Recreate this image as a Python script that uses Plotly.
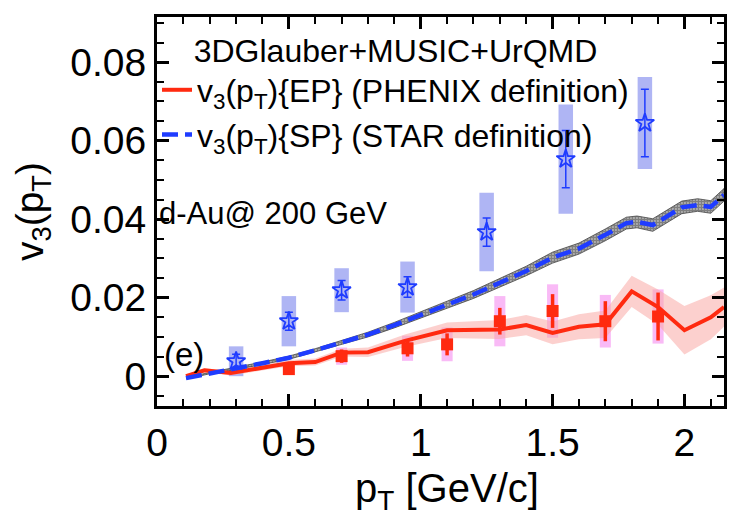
import plotly.graph_objects as go

# ---- model curves (3DGlauber+MUSIC+UrQMD) ----
ep_pt = [0.11, 0.18, 0.28, 0.38, 0.50, 0.60, 0.70, 0.80, 0.94, 1.10, 1.30, 1.40,
         1.50, 1.60, 1.70, 1.80, 1.90, 2.00, 2.10, 2.15]
ep_v3 = [0.0000, 0.0015, 0.0008, 0.0020, 0.0033, 0.0036, 0.0060, 0.0061, 0.0090,
         0.0117, 0.0119, 0.0130, 0.0110, 0.0126, 0.0132, 0.0216, 0.0176, 0.0117,
         0.0150, 0.0176]
ep_err = [0.0004, 0.0005, 0.0006, 0.0007, 0.0008, 0.0009, 0.0010, 0.0012, 0.0016,
          0.0020, 0.0024, 0.0026, 0.0029, 0.0032, 0.0035, 0.0040, 0.0045, 0.0062,
          0.0056, 0.0050]

sp_pt = [0.11, 0.20, 0.30, 0.40, 0.50, 0.60, 0.70, 0.80, 0.90, 1.00, 1.10, 1.20,
         1.30, 1.40, 1.50, 1.60, 1.70, 1.78, 1.82, 1.88, 1.99, 2.05, 2.10, 2.15]
sp_v3 = [-0.0005, 0.0008, 0.0020, 0.0033, 0.0047, 0.0066, 0.0086, 0.0106, 0.0130,
         0.0155, 0.0182, 0.0208, 0.0238, 0.0268, 0.0302, 0.0325, 0.0360, 0.0390,
         0.0393, 0.0385, 0.0430, 0.0436, 0.0431, 0.0462]
sp_err = [0.0002, 0.0002, 0.0003, 0.0003, 0.0004, 0.0004, 0.0005, 0.0006, 0.0007,
          0.0008, 0.0009, 0.0010, 0.0011, 0.0012, 0.0014, 0.0014, 0.0015, 0.0015,
          0.0015, 0.0016, 0.0016, 0.0016, 0.0016, 0.0016]

# ---- STAR data (SP) ----
star_pt = [0.30, 0.50, 0.70, 0.95, 1.25, 1.55, 1.85]
star_v3 = [0.0038, 0.0140, 0.0219, 0.0227, 0.0367, 0.0553, 0.0645]
star_stat = [0.0018, 0.0023, 0.0025, 0.0026, 0.0036, 0.0073, 0.0086]
star_sys = [0.0038, 0.0064, 0.0056, 0.0065, 0.0100, 0.0139, 0.0117]

# ---- PHENIX data (EP) ----
phx_pt = [0.50, 0.70, 0.95, 1.10, 1.30, 1.50, 1.70, 1.90]
phx_v3 = [0.0018, 0.0051, 0.0071, 0.0081, 0.0140, 0.0166, 0.0140, 0.0152]
phx_stat = [0.0010, 0.0017, 0.0021, 0.0028, 0.0034, 0.0043, 0.0051, 0.0061]
phx_sys = [0.0015, 0.0022, 0.0032, 0.0043, 0.0064, 0.0068, 0.0067, 0.0069]

x_ticks = [0, 0.5, 1, 1.5, 2]
x_ticktext = ["0", "0.5", "1", "1.5", "2"]
y_ticks = [0, 0.02, 0.04, 0.06, 0.08]
y_ticktext = ["0", "0.02", "0.04", "0.06", "0.08"]

RED = "#ff2a10"
BLUE = "#1f3cff"
FONT = "Liberation Sans"

fig = go.Figure()


def band(xs, ys, es):
    upper = [y + e for y, e in zip(ys, es)]
    lower = [y - e for y, e in zip(ys, es)]
    return xs + xs[::-1], upper + lower[::-1]


# EP uncertainty band
bx, by = band(ep_pt, ep_v3, ep_err)
fig.add_trace(go.Scatter(x=bx, y=by, fill="toself", mode="lines",
                         line=dict(width=0), fillcolor="rgba(250,170,165,0.55)",
                         hoverinfo="skip", showlegend=False))

# SP uncertainty band (stippled)
bx, by = band(sp_pt, sp_v3, sp_err)
fig.add_trace(go.Scatter(x=bx, y=by, fill="toself", mode="lines",
                         line=dict(width=0.8, color="#444444"),
                         fillcolor="white",
                         fillpattern=dict(shape=".", fgcolor="black",
                                          bgcolor="white", size=3, solidity=0.8),
                         hoverinfo="skip", showlegend=False))

# systematic boxes
fig.add_trace(go.Bar(x=star_pt, y=[2 * s for s in star_sys],
                     base=[v - s for v, s in zip(star_v3, star_sys)],
                     width=0.055, marker=dict(color="rgba(110,120,235,0.55)",
                                              line=dict(width=0)),
                     hoverinfo="skip", showlegend=False))
fig.add_trace(go.Bar(x=phx_pt, y=[2 * s for s in phx_sys],
                     base=[v - s for v, s in zip(phx_v3, phx_sys)],
                     width=0.042, marker=dict(color="rgba(245,140,240,0.6)",
                                              line=dict(width=0)),
                     hoverinfo="skip", showlegend=False))

# model curves
fig.add_trace(go.Scatter(x=ep_pt, y=ep_v3, mode="lines",
                         line=dict(color=RED, width=4),
                         name="v<sub>3</sub>(p<sub>T</sub>){EP} (PHENIX definition)"))
fig.add_trace(go.Scatter(x=sp_pt, y=sp_v3, mode="lines",
                         line=dict(color=BLUE, width=4.5, dash="16px,7px"),
                         name="v<sub>3</sub>(p<sub>T</sub>){SP} (STAR definition)"))

# data points
fig.add_trace(go.Scatter(x=star_pt, y=star_v3, mode="markers",
                         marker=dict(symbol="star-open", size=14,
                                     color=BLUE, line=dict(width=1.8, color=BLUE)),
                         error_y=dict(type="data", array=star_stat, color=BLUE,
                                      thickness=1.5, width=4),
                         showlegend=False))
fig.add_trace(go.Scatter(x=phx_pt, y=phx_v3, mode="markers",
                         marker=dict(symbol="square", size=12, color=RED,
                                     line=dict(width=0)),
                         error_y=dict(type="data", array=phx_stat, color=RED,
                                      thickness=3.5, width=0),
                         showlegend=False))

fig.add_annotation(x=0.0, y=0.0415, xref="x", yref="y", xanchor="left",
                   text="d-Au@ 200 GeV", showarrow=False,
                   font=dict(family=FONT, size=31, color="black"))
fig.add_annotation(x=0.02, y=0.0054, xref="x", yref="y", xanchor="left",
                   text="(e)", showarrow=False,
                   font=dict(family=FONT, size=33, color="black"))
# x-axis title
fig.add_annotation(x=0.512, y=-0.218, xref="paper", yref="paper",
                   xanchor="center", yanchor="middle", showarrow=False,
                   text="p<sub>T</sub> [GeV/c]",
                   font=dict(family=FONT, size=40, color="black"))

axis_common = dict(showline=True, linewidth=3, linecolor="black", mirror="allticks",
                   ticks="inside", ticklen=12, tickwidth=2.5, tickcolor="black",
                   showgrid=False, zeroline=False,
                   tickfont=dict(family=FONT, size=39, color="black"))

fig.update_layout(
    width=729, height=522,
    margin=dict(l=157, r=2, t=17, b=116),
    paper_bgcolor="white", plot_bgcolor="white",
    barmode="overlay",
    font=dict(family=FONT, color="black"),
    xaxis=dict(range=[0, 2.15], tickvals=x_ticks, ticktext=x_ticktext,
               minor=dict(dtick=0.1, ticks="inside", ticklen=7, tickwidth=2,
                          tickcolor="black"),
               ticklabelstandoff=0,
               **axis_common),
    yaxis=dict(range=[-0.0076, 0.0915], tickvals=y_ticks, ticktext=y_ticktext,
               minor=dict(dtick=0.005, ticks="inside", ticklen=7, tickwidth=2,
                          tickcolor="black"),
               title=dict(text="v<sub>3</sub>(p<sub>T</sub>)",
                          font=dict(family=FONT, size=39)),
               **axis_common),
    legend=dict(x=0.0, y=0.99, xanchor="left", yanchor="top",
                bgcolor="rgba(0,0,0,0)", borderwidth=0,
                font=dict(family=FONT, size=32, color="black"),
                itemwidth=30, tracegroupgap=0,
                title=dict(text="3DGlauber+MUSIC+UrQMD", side="top center",
                           font=dict(family=FONT, size=32, color="black"))),
)

fig.write_html("out.html")
